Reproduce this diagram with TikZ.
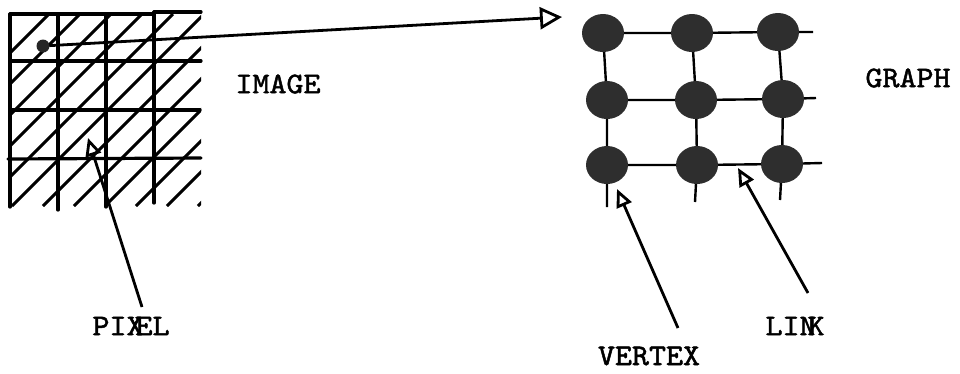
\documentclass[tikz,border=0pt]{standalone}
\usepackage{fontspec}
\newfontfamily\typewriter{lmmono10-regular.otf}[FakeStretch=1.08,FakeBold=1.6]
\usetikzlibrary{arrows.meta,shapes.geometric}
\begin{document}
\begin{tikzpicture}[x=1pt,y=-1pt,
  gridline/.style={line width=3.2pt, line cap=round},
  hatchline/.style={line width=3pt},
  linkline/.style={line width=2.4pt},
  vertexnode/.style={ellipse, fill=black!82, minimum width=42pt, minimum height=38pt, inner sep=0pt},
  pointer/.style={line width=2.8pt, -{Triangle[open, length=18pt, width=16pt]}},
  bigpointer/.style={line width=2.8pt, -{Triangle[open, length=22pt, width=22pt]}},
  wordlabel/.style={font=\fontsize{30}{30}\selectfont\typewriter, inner sep=0pt}
]
\useasboundingbox[fill=white] (0,0) rectangle (960,373);

% ---- pixel image: hatched grid ----
\begin{scope}
  \clip (10,14) rectangle (201,206);
  \foreach \c in {63,94,...,404}
    \draw[hatchline] ({\c-14},14) -- ({\c-206},206);
\end{scope}
\draw[gridline] (10,14) -- (10,207);
\draw[gridline] (58,14) -- (58,210);
\draw[gridline] (106,14) -- (106,207);
\draw[gridline] (154,12) -- (154,203);
\draw[gridline] (10,14) -- (154,14) (154,12) -- (201,12);
\draw[gridline] (10,61) -- (201,61);
\draw[gridline] (10,110) -- (200,110);
\draw[gridline] (8,159) -- (201,158);

\node[circle, fill=black!85, minimum size=13pt, inner sep=0pt] (pix) at (43,46) {};

% ---- graph of vertices ----
\node[vertexnode] (v11) at (603,33) {};
\node[vertexnode] (v12) at (692,33) {};
\node[vertexnode] (v13) at (778,32) {};
\node[vertexnode] (v21) at (607,100) {};
\node[vertexnode] (v22) at (696,100) {};
\node[vertexnode] (v23) at (783,99) {};
\node[vertexnode] (v31) at (607,165) {};
\node[vertexnode] (v32) at (697,165) {};
\node[vertexnode] (v33) at (782,164) {};

\coordinate (r1) at (813,32);
\coordinate (r2) at (816,98);
\coordinate (r3) at (822,163);
\coordinate (b1) at (607,207);
\coordinate (b2) at (695,202);
\coordinate (b3) at (780,200);

\draw[linkline] (v11) -- (v12) (v12) -- (v13) (v13) -- (r1);
\draw[linkline] (v21) -- (v22) (v22) -- (v23) (v23) -- (r2);
\draw[linkline] (v31) -- (v32) (v32) -- (v33) (v33) -- (r3);
\draw[linkline] (v11) -- (v21) (v21) -- (v31) (v31) -- (b1);
\draw[linkline] (v12) -- (v22) (v22) -- (v32) (v32) -- (b2);
\draw[linkline] (v13) -- (v23) (v23) -- (v33) (v33) -- (b3);

% ---- labels ----
\node[wordlabel] (image) at (278,84) {IMAGE};
\node[wordlabel] (graph) at (908,78) {GRAPH};
\node[wordlabel] (pixel) at (131,326) {PIX\kern-8pt EL};
\node[wordlabel] (vertex) at (649,356) {VERTEX};
\node[wordlabel] (link) at (795,326) {LIN\kern-9pt K};

% ---- pointers ----
\coordinate (gtip) at (562,17);
\coordinate (pixtip) at (88,138);
\coordinate (pixtail) at (142,307);
\coordinate (vtip) at (617,189);
\coordinate (vtail) at (678,328);
\coordinate (ltip) at (738,168);
\coordinate (ltail) at (808,293);

\draw[bigpointer] (pix) -- (gtip);
\draw[pointer] (pixtail) -- (pixtip);
\draw[pointer] (vtail) -- (vtip);
\draw[pointer] (ltail) -- (ltip);
\end{tikzpicture}
\end{document}
